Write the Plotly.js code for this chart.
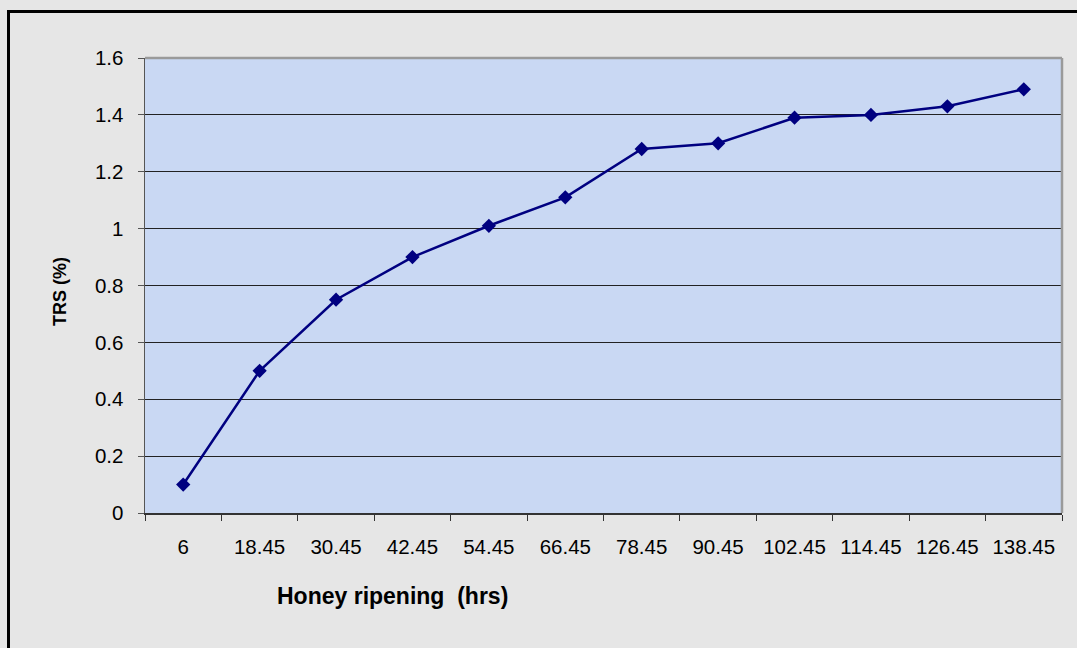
<!DOCTYPE html>
<html>
<head>
<meta charset="utf-8">
<script src="https://cdn.plot.ly/plotly-3.0.1.min.js"></script>
<style>
  html, body { margin: 0; padding: 0; background: #e6e6e6; }
  #chart { width: 1077px; height: 648px; }
</style>
</head>
<body>
<div id="chart"></div>
<script>
const categories = ["6", "18.45", "30.45", "42.45", "54.45", "66.45", "78.45", "90.45", "102.45", "114.45", "126.45", "138.45"];
const trsValues = [0.10, 0.50, 0.75, 0.90, 1.01, 1.11, 1.28, 1.30, 1.39, 1.40, 1.43, 1.49];
const yTickValues = [0, 0.2, 0.4, 0.6, 0.8, 1, 1.2, 1.4, 1.6];
const yTickLabels = ["0", "0.2", "0.4", "0.6", "0.8", "1", "1.2", "1.4", "1.6"];
const xTitle = "Honey ripening  (hrs)";
const yTitle = "TRS (%)";

const FONT = "Liberation Sans, Arial, sans-serif";

const trace = {
  x: categories,
  y: trsValues,
  type: "scatter",
  mode: "lines+markers",
  line: { color: "#000080", width: 2.5 },
  marker: { symbol: "diamond", size: 11, color: "#000080" },
  hoverinfo: "x+y",
  showlegend: false
};

const layout = {
  width: 1077,
  height: 648,
  margin: { l: 145, r: 15, t: 58, b: 135 },
  paper_bgcolor: "#e6e6e6",
  plot_bgcolor: "#c9d8f3",
  font: { family: FONT, size: 20, color: "#000" },
  xaxis: {
    type: "category",
    range: [-0.5, categories.length - 0.5],
    autorange: false,
    tickson: "boundaries",
    ticks: "outside",
    ticklen: 6,
    tickcolor: "#333",
    showline: true,
    linecolor: "#333",
    linewidth: 1.5,
    showgrid: false,
    zeroline: false,
    ticklabelstandoff: 15,
    tickfont: { family: FONT, size: 20.5, color: "#000" }
  },
  yaxis: {
    range: [0, 1.6],
    autorange: false,
    tickvals: yTickValues,
    ticktext: yTickLabels,
    ticks: "outside",
    ticklen: 6,
    tickcolor: "#555",
    showline: true,
    linecolor: "#555",
    linewidth: 1.5,
    showgrid: true,
    gridcolor: "#222",
    gridwidth: 1,
    zeroline: false,
    ticklabelstandoff: 10,
    tickfont: { family: FONT, size: 20.5, color: "#000" }
  },
  shapes: [
    { type: "line", xref: "paper", yref: "paper", x0: 0, x1: 1, y0: 1, y1: 1,
      line: { color: "#9a9a9a", width: 2.5 } },
    { type: "line", xref: "paper", yref: "paper", x0: 1, x1: 1, y0: 0, y1: 1,
      line: { color: "#9a9a9a", width: 2.5 } },
    { type: "rect", xref: "paper", yref: "paper",
      x0: (8.5 - 145) / 917, x1: 1.1, y0: -0.4, y1: 1 + (58 - 11.5) / 455,
      line: { color: "#000", width: 3 }, layer: "above" }
  ],
  annotations: [
    { text: "<b>" + xTitle + "</b>", xref: "paper", yref: "paper",
      x: (392 - 145) / 917, y: -(596 - 513) / 455, xanchor: "center", yanchor: "middle",
      showarrow: false, font: { family: FONT, size: 23, color: "#000" } },
    { text: "<b>" + yTitle + "</b>", xref: "paper", yref: "paper",
      x: (60 - 145) / 917, y: (513 - 292) / 455, xanchor: "center", yanchor: "middle",
      textangle: -90, showarrow: false, font: { family: FONT, size: 18, color: "#000" } }
  ]
};

Plotly.newPlot("chart", [trace], layout, { displayModeBar: false, staticPlot: true });
</script>
</body>
</html>
